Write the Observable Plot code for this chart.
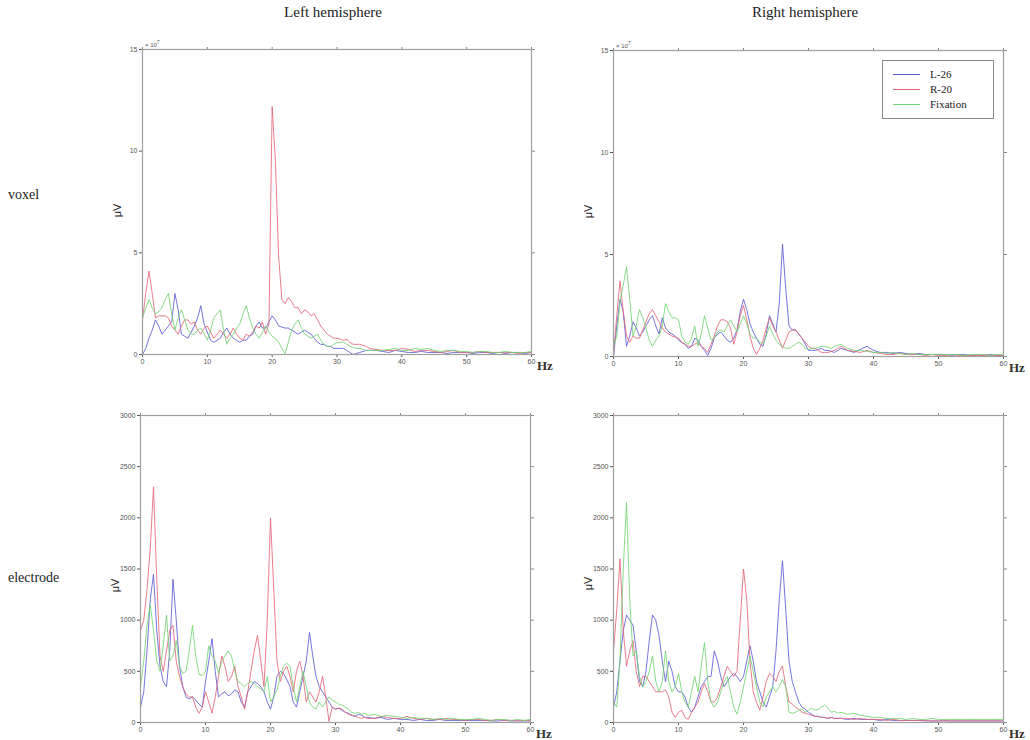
<!DOCTYPE html>
<html><head><meta charset="utf-8">
<script src="https://cdn.jsdelivr.net/npm/d3@7"></script>
<script src="https://cdn.jsdelivr.net/npm/@observablehq/plot@0.6"></script>
<style>
body{margin:0;background:#fff;}
#root{position:relative;width:1030px;height:740px;overflow:hidden;font-family:"Liberation Serif","DejaVu Serif",serif;color:#222;}
.lbl{position:absolute;white-space:nowrap;line-height:1;}
.panel{position:absolute;}
.legend{position:absolute;border:1px solid #8a8a8a;background:#fff;font-size:11px;}
.legend .row{position:absolute;left:0;height:12px;}
.legend .sw{position:absolute;left:10px;top:6px;width:27px;height:0;border-top:1px solid;}
.legend .tx{position:absolute;left:47px;top:0;}
</style></head><body><div id="root"></div>
<script>
// ---------- data ----------
const hz = [0,0.5,1,1.5,2,2.5,3,3.5,4,4.5,
  5,5.5,6,6.5,7,7.5,8,8.5,9,9.5,
  10,10.5,11,11.5,12,12.5,13,13.5,14,14.5,
  15,15.5,16,16.5,17,17.5,18,18.5,19,19.5,
  20,20.5,21,21.5,22,22.5,23,23.5,24,24.5,
  25,25.5,26,26.5,27,27.5,28,28.5,29,29.5,
  30,30.5,31,31.5,32,32.5,33,33.5,34,34.5,
  35,36,37,38,39,40,41,42,43,44,45,46,47,48,49,50,51,52,53,54,55,56,57,58,59,60];

const seriesNames = ["L-26","R-20","Fixation"];
const seriesColors = ["#5c5cd6","#e4667a","#72d472"];
const xTicks = [0,10,20,30,40,50,60];
const voxelTicks = [0,5,10,15];
const electrodeTicks = [0,500,1000,1500,2000,2500,3000];
const columnTitles = ["Left hemisphere","Right hemisphere"];
const rowTitles = ["voxel","electrode"];

// voxel, left hemisphere (x 10^7 µV)
const voxelLeftL26 = [0.0,0.3,0.8,1.2,1.7,1.4,1.0,1.2,1.4,1.6,
  3.0,2.2,1.0,0.9,0.8,1.1,1.4,1.8,2.4,1.5,
  1.1,0.7,0.6,0.7,0.8,1.1,1.3,1.0,0.8,0.7,
  0.6,0.7,0.7,0.9,1.0,1.4,1.6,1.3,1.3,1.6,
  1.9,1.7,1.4,1.35,1.3,1.3,1.2,1.1,1.0,1.1,
  1.2,1.1,1.0,0.8,0.6,0.5,0.5,0.4,0.4,0.3,
  0.3,0.3,0.3,0.2,0.1,0.0,0.05,0.1,0.15,0.2,
  0.2,
  0.2,0.15,0.1,0.2,0.15,0.1,0.1,0.15,0.1,0.1,0.1,0.05,0.1,0.1,0.1,0.05,0.1,0.1,0.05,0.1,0.05,0.1,0.1,0.05,0.1];
const voxelLeftR20 = [1.7,3.0,4.1,3.0,1.8,1.9,1.9,1.9,1.8,1.4,
  1.2,1.0,1.4,1.7,1.7,1.5,1.6,1.2,1.0,1.3,
  1.4,1.1,0.8,1.0,1.2,1.0,0.8,1.0,1.3,1.0,
  0.8,0.7,1.0,0.9,1.1,1.4,1.3,1.6,1.0,1.5,
  12.2,9.5,4.8,2.7,2.5,2.8,2.6,2.3,2.3,2.0,
  2.2,2.1,1.9,2.0,1.7,1.4,1.2,1.0,0.9,0.8,
  0.8,0.75,0.7,0.75,0.6,0.5,0.5,0.5,0.45,0.4,
  0.3,
  0.25,0.2,0.2,0.2,0.3,0.25,0.15,0.2,0.2,0.15,0.1,0.15,0.2,0.1,0.1,0.1,0.15,0.1,0.1,0.1,0.1,0.1,0.05,0.1,0.1];
const voxelLeftFix = [1.8,2.3,2.7,2.3,2.0,2.1,2.3,2.7,3.0,2.0,
  1.2,1.8,2.2,1.7,1.2,1.0,1.0,1.2,1.3,1.0,
  0.7,1.2,1.8,2.0,2.2,1.2,0.5,0.8,1.0,1.3,
  1.5,2.0,2.4,1.8,1.3,1.0,0.8,1.1,1.4,1.1,
  0.9,0.8,0.6,0.3,0.05,0.6,1.2,1.5,1.7,1.3,
  1.0,0.9,0.8,0.9,1.0,0.7,0.5,0.4,0.4,0.5,
  0.6,0.6,0.6,0.5,0.4,0.35,0.3,0.3,0.25,0.2,
  0.2,
  0.2,0.2,0.25,0.3,0.2,0.2,0.3,0.25,0.3,0.2,0.15,0.2,0.2,0.15,0.15,0.1,0.15,0.15,0.1,0.1,0.15,0.1,0.1,0.1,0.15];

// voxel, right hemisphere (x 10^7 µV)
const voxelRightL26 = [0.0,1.5,2.8,2.2,0.5,1.0,1.7,1.4,1.0,1.2,
  1.5,1.8,2.0,1.5,1.1,1.9,1.4,1.2,1.1,1.0,
  0.8,0.7,0.6,0.4,0.5,0.9,0.8,0.5,0.3,0.05,
  0.4,0.9,1.1,1.2,1.0,0.8,0.7,0.9,1.3,2.2,
  2.8,2.3,1.6,1.2,0.9,0.6,0.5,1.1,2.0,1.6,
  1.2,2.6,5.5,3.3,1.5,1.3,1.3,1.1,0.9,0.6,
  0.3,0.3,0.3,0.35,0.4,0.3,0.3,0.25,0.2,0.3,
  0.4,
  0.3,0.2,0.35,0.5,0.3,0.2,0.2,0.15,0.2,0.15,0.1,0.15,0.1,0.1,0.1,0.1,0.05,0.1,0.1,0.05,0.1,0.05,0.1,0.05,0.05];
const voxelRightR20 = [0.1,2.0,3.7,2.2,1.0,0.7,1.0,0.9,0.9,1.3,
  1.7,2.1,2.3,2.0,1.7,1.4,1.2,1.1,1.0,0.95,
  0.9,0.7,0.6,0.5,0.5,0.6,0.7,0.5,0.4,0.2,
  0.6,1.0,1.5,1.8,1.8,1.7,1.4,0.6,1.2,2.0,
  2.5,1.8,1.0,0.4,0.1,0.4,0.8,1.4,1.9,1.5,
  1.2,0.8,0.4,0.8,1.2,1.3,1.3,1.1,0.9,0.7,
  0.5,0.4,0.4,0.3,0.2,0.2,0.2,0.25,0.3,0.4,
  0.5,
  0.3,0.25,0.2,0.3,0.2,0.15,0.1,0.1,0.15,0.1,0.1,0.1,0.05,0.1,0.05,0.05,0.1,0.05,0.05,0.05,0.05,0.05,0.05,0.05,0.05];
const voxelRightFix = [0.5,1.0,2.7,3.5,4.4,2.8,1.0,1.5,2.3,1.9,
  1.4,0.8,0.5,0.8,1.0,1.5,2.6,2.2,1.9,1.9,
  1.8,1.0,0.7,0.6,0.9,1.5,0.5,1.1,2.0,1.4,
  0.8,0.9,1.2,1.3,1.2,1.5,1.8,1.5,1.2,1.6,
  2.0,1.6,1.1,0.9,0.9,0.7,0.6,1.0,1.5,1.1,
  0.8,0.6,0.5,0.4,0.4,0.5,0.6,0.7,0.6,0.4,
  0.35,0.4,0.4,0.45,0.5,0.5,0.45,0.4,0.5,0.55,
  0.6,
  0.4,0.3,0.3,0.25,0.2,0.2,0.15,0.2,0.15,0.1,0.15,0.1,0.1,0.1,0.1,0.1,0.1,0.1,0.05,0.1,0.1,0.1,0.05,0.1,0.1];

// electrode, left hemisphere (µV)
const electrodeLeftL26 = [150,300,700,1200,1450,900,550,400,350,700,
  1400,1000,550,350,250,230,250,220,180,150,
  400,600,820,500,250,280,300,260,280,320,
  300,200,150,300,350,400,380,350,300,200,
  130,250,450,500,480,420,350,200,150,300,
  450,600,880,650,450,350,300,250,200,150,
  130,140,120,100,90,70,60,80,70,50,
  50,
  40,50,30,40,30,30,20,30,20,20,30,20,20,20,20,20,20,20,15,15,20,15,15,15,15];
const electrodeLeftR20 = [900,1000,1300,1700,2300,1400,650,500,700,900,
  950,600,450,350,280,250,250,150,90,150,
  300,200,90,250,450,650,550,400,450,550,
  350,250,130,300,500,700,850,600,350,1000,
  2000,1300,600,400,500,550,450,300,500,600,
  450,200,300,250,200,300,450,250,10,150,
  130,140,130,100,80,70,60,50,40,50,
  40,
  40,60,50,40,40,60,40,30,40,30,30,40,30,30,20,30,30,20,20,30,20,20,20,20,20];
const electrodeLeftFix = [350,600,950,1150,900,600,500,750,1050,600,
  650,800,550,480,500,700,950,650,470,460,
  500,750,650,600,480,600,650,700,650,500,
  400,380,350,380,400,380,350,330,300,450,
  200,250,320,450,550,580,550,350,200,350,
  500,350,200,150,130,200,150,200,250,220,
  200,180,170,150,130,100,90,100,80,90,
  70,
  80,60,70,60,50,40,50,40,40,30,40,30,40,30,30,30,40,30,20,30,30,20,30,20,30];

// electrode, right hemisphere (µV)
const electrodeRightL26 = [150,300,600,900,1050,1000,950,700,400,350,
  500,800,1050,1000,850,600,400,600,500,350,
  300,300,250,150,100,150,250,350,400,450,
  450,700,600,450,350,400,450,480,450,400,
  450,600,750,600,400,300,200,150,250,350,
  700,1200,1580,1100,600,400,300,200,150,130,
  100,80,60,60,50,50,40,50,40,40,
  40,
  30,40,30,30,30,20,30,20,20,20,20,20,15,15,15,15,15,15,15,15,15,15,15,15,15];
const electrodeRightR20 = [700,1100,1600,900,550,700,800,500,350,450,
  450,400,350,300,300,300,320,250,100,50,
  100,120,50,30,100,150,200,300,380,300,
  200,200,250,350,450,550,500,450,500,1000,
  1500,1200,600,300,200,120,250,400,480,450,
  400,500,550,350,200,180,150,130,100,90,
  80,70,60,60,50,50,40,50,40,40,
  40,
  40,30,40,30,30,30,20,30,20,20,20,20,20,15,15,20,15,15,15,15,15,15,15,15,15];
const electrodeRightFix = [200,150,600,1500,2150,1200,650,700,450,350,
  400,500,650,400,300,400,700,400,300,350,
  480,300,200,150,300,450,300,550,780,400,
  200,150,200,300,400,450,300,150,80,200,
  350,500,650,500,350,200,150,250,300,350,
  300,350,420,350,100,90,100,120,130,100,
  120,140,120,130,150,170,140,100,110,90,
  100,
  80,90,70,60,50,50,40,40,40,30,40,30,30,40,30,30,30,30,30,30,30,30,30,30,30];

// ---------- drawing ----------
const root = document.getElementById("root");
function addLabel(text, css){
  const d = document.createElement("div");
  d.className = "lbl"; d.textContent = text;
  Object.assign(d.style, css);
  root.appendChild(d);
  return d;
}

const M = {l:40, r:20, t:20, b:20};
function makePanel(p){
  const rows = [];
  p.series.forEach((vals,i) => {
    if (vals.length !== hz.length) throw new Error("length mismatch " + p.name + " " + i + ": " + vals.length);
    vals.forEach((v,j) => rows.push({hz: hz[j], v, s: seriesNames[i]}));
  });
  const w = p.x1 - p.x0, h = p.y1 - p.y0;
  const svg = Plot.plot({
    width: w + M.l + M.r, height: h + M.t + M.b,
    marginLeft: M.l, marginRight: M.r, marginTop: M.t, marginBottom: M.b,
    style: {background: "transparent", fontSize: "7px", fontFamily: "'Liberation Sans', Arial, sans-serif", overflow: "visible"},
    x: {domain: [0, 60]},
    y: {domain: p.yDomain},
    color: {domain: seriesNames, range: seriesColors},
    marks: [
      Plot.axisX({ticks: xTicks, tickSize: 3, tickPadding: 2, tickFormat: d => String(d), label: null, color: "#555"}),
      Plot.axisX({anchor: "top", ticks: xTicks, tickSize: 3, tickFormat: () => "", label: null, color: "#888"}),
      Plot.axisY({ticks: p.yTicks, tickSize: 3, tickPadding: 2, tickFormat: d => String(d), label: null, color: "#555"}),
      Plot.axisY({anchor: "right", ticks: p.yTicks, tickSize: 3, tickFormat: () => "", label: null, color: "#888"}),
      Plot.line(rows, {x: "hz", y: "v", z: "s", stroke: "s", strokeWidth: 0.85}),
      Plot.frame({stroke: "#a0a0a0", strokeWidth: 1.2})
    ]
  });
  const holder = document.createElement("div");
  holder.className = "panel";
  holder.style.left = (p.x0 - M.l) + "px";
  holder.style.top = (p.y0 - M.t) + "px";
  holder.appendChild(svg);
  root.appendChild(holder);

  // y label µV
  addLabel("μV", {left: (p.x0 - 31) + "px", top: ((p.y0 + p.y1) / 2 - 7 + p.labelShift) + "px", fontSize: "11px",
    fontFamily: "'Liberation Sans', Arial, sans-serif", transform: "rotate(-90deg)", transformOrigin: "center"});
  // x label Hz
  addLabel("Hz", {left: (p.x1 + 6) + "px", top: (p.y1 + 5) + "px", fontSize: "13px", fontWeight: "bold", color: "#333"});
  if (p.exponent) {
    const e = addLabel("", {left: (p.x0 + 3) + "px", top: (p.y0 - 9) + "px", fontSize: "6px", color: "#555",
      fontFamily: "'Liberation Sans', Arial, sans-serif"});
    e.innerHTML = "× 10<sup style='font-size:5px'>7</sup>";
  }
}

const panels = [
  {name: "TL", x0: 142, x1: 531, y0: 49, y1: 354, yDomain: [0, 15], yTicks: voxelTicks, exponent: true, labelShift: 10,
   series: [voxelLeftL26, voxelLeftR20, voxelLeftFix]},
  {name: "TR", x0: 613, x1: 1003, y0: 50, y1: 356, yDomain: [0, 15], yTicks: voxelTicks, exponent: true, labelShift: 10,
   series: [voxelRightL26, voxelRightR20, voxelRightFix]},
  {name: "BL", x0: 140, x1: 530, y0: 415, y1: 722, yDomain: [0, 3000], yTicks: electrodeTicks, labelShift: 18,
   series: [electrodeLeftL26, electrodeLeftR20, electrodeLeftFix]},
  {name: "BR", x0: 613, x1: 1003, y0: 415, y1: 722, yDomain: [0, 3000], yTicks: electrodeTicks, labelShift: 16,
   series: [electrodeRightL26, electrodeRightR20, electrodeRightFix]}
];
panels.forEach(makePanel);

// column titles
addLabel(columnTitles[0], {left: "333px", top: "5px", fontSize: "15px", transform: "translateX(-50%)"});
addLabel(columnTitles[1], {left: "805px", top: "5px", fontSize: "15px", transform: "translateX(-50%)"});
// row titles
addLabel(rowTitles[0], {left: "8px", top: "188px", fontSize: "14px"});
addLabel(rowTitles[1], {left: "8px", top: "571px", fontSize: "14px"});

// legend
const lg = document.createElement("div");
lg.className = "legend";
Object.assign(lg.style, {left: "882px", top: "60px", width: "110px", height: "57px"});
seriesNames.forEach((n, i) => {
  const r = document.createElement("div");
  r.className = "row";
  r.style.top = (7 + i * 15) + "px";
  r.style.width = "110px";
  const sw = document.createElement("div"); sw.className = "sw"; sw.style.borderColor = seriesColors[i];
  const tx = document.createElement("div"); tx.className = "tx"; tx.textContent = n;
  r.appendChild(sw); r.appendChild(tx); lg.appendChild(r);
});
root.appendChild(lg);
</script>
</body></html>
